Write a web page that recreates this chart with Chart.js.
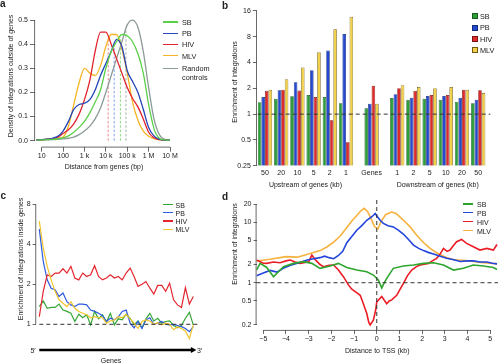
<!DOCTYPE html>
<html>
<head>
<meta charset="utf-8">
<script src="https://cdn.jsdelivr.net/npm/chart.js@4.4.1/dist/chart.umd.min.js"></script>
<style>
html, body { margin: 0; padding: 0; background: #fff; }
body { width: 498px; height: 363px; position: relative; overflow: hidden;
       font-family: 'Liberation Sans', Arial, sans-serif; color: #222; }
canvas { position: absolute; }
.ttl, .ctr, .lt, .sw, .letter { position: absolute; white-space: nowrap; }
.ttl { font-size: 7px; transform: translate(-50%, -50%) rotate(-90deg); }
.ctr { font-size: 7px; transform: translate(-50%, -50%); }
.lt  { font-size: 7px; transform: translateY(-50%); }
.letter { font-size: 10px; font-weight: bold; line-height: 10px; }
</style>
</head>
<body>
<canvas id="ca" width="240" height="180" style="left:0;top:0"></canvas>
<canvas id="cb" width="278" height="190" style="left:220px;top:0"></canvas>
<canvas id="cc" width="230" height="173" style="left:0;top:190px"></canvas>
<canvas id="cd" width="278" height="173" style="left:220px;top:190px"></canvas>
<script>
// ---------- panel a: density of integrations outside genes ----------
const aLogDist = [0.75,1,1.25,1.5,1.75,2,2.25,2.5,2.75,3,3.25,3.5,3.75,4,4.25,4.5,4.75,5,5.25,5.5,5.75,6,6.25,6.5,6.75,7];
const aSB     = [0.002,0.003,0.004,0.005,0.008,0.012,0.02,0.035,0.055,0.08,0.115,0.16,0.21,0.30,0.37,0.41,0.44,0.435,0.41,0.36,0.28,0.15,0.05,0.01,0.003,0.002];
const aPB     = [0.003,0.004,0.006,0.01,0.018,0.04,0.08,0.13,0.15,0.155,0.17,0.21,0.27,0.32,0.37,0.42,0.39,0.29,0.245,0.20,0.13,0.055,0.02,0.006,0.002,0.002];
const aHIV    = [0.003,0.004,0.006,0.008,0.014,0.03,0.045,0.07,0.11,0.17,0.25,0.37,0.45,0.45,0.40,0.34,0.28,0.22,0.175,0.14,0.09,0.035,0.012,0.004,0.002,0.002];
const aMLV    = [0.003,0.004,0.005,0.007,0.01,0.015,0.06,0.15,0.24,0.30,0.28,0.27,0.31,0.39,0.44,0.44,0.38,0.28,0.16,0.085,0.04,0.018,0.008,0.004,0.002,0.002];
const aRandom = [0.001,0.002,0.003,0.004,0.005,0.007,0.01,0.015,0.025,0.04,0.06,0.09,0.135,0.2,0.27,0.34,0.41,0.48,0.50,0.47,0.37,0.22,0.09,0.025,0.006,0.002];
// median distances (dashed lines), bp, and the height they reach
const aMedianBp  = [48000, 24500, 12900, 87000];   // SB, PB, HIV, Random
const aMedianTop = [0.43, 0.40, 0.43, 0.46];
const aXTicks = [10, 100, 1e3, 1e4, 1e5, 1e6, 1e7];
const aXLabels = ['10', '100', '1 k', '10 k', '100 k', '1 M', '10 M'];
const aYTicks = [0, 0.1, 0.2, 0.3, 0.4, 0.5];

// ---------- panel b: enrichment around genes (bars) ----------
const bGroups = ['50','20','10','5','2','1','Genes','1','2','5','10','20','50'];
const bRegion = ['up','up','up','up','up','up','gene','down','down','down','down','down','down'];
const bSB  = [1.38,1.51,1.62,1.67,1.58,1.34,1.17,1.54,1.47,1.51,1.47,1.39,1.34];
const bPB  = [1.58,1.90,2.36,3.26,5.52,8.6,1.32,1.71,1.55,1.63,1.63,1.55,1.47];
const bHIV = [1.87,1.92,1.89,1.58,0.85,0.47,2.14,2.01,1.87,1.67,1.67,1.92,1.90];
const bMLV = [1.92,2.56,3.50,5.29,9.8,13.7,1.32,2.18,2.07,2.01,2.07,1.92,1.76];
const bYTicks = [0.25, 0.5, 1, 2, 4, 8, 16];

// ---------- panel c: enrichment inside genes, 5' -> 3' bins ----------
const cSB  = [1.36,1.5,1.32,1.34,1.34,1.42,1.28,1.25,1.21,1.05,1.19,1.12,1.18,0.99,1.25,1.1,1.18,1.04,1.21,0.99,1.1,1.08,1.19,1.11,0.99,1.06,0.94,1.1,1.21,1.06,1.11,1.02,1.05,1.06,0.98,0.94,0.98,1.11,1.23,0.99];
const cPB  = [5.2,2.98,2.16,1.87,1.82,1.62,1.72,1.48,1.40,1.36,1.42,1.42,1.40,1.28,1.25,1.21,1.16,1.05,1.11,1.08,1.14,1.25,1.28,1.02,0.94,1.05,0.93,1.08,1.12,1.0,1.02,1.05,1.0,0.99,1.0,0.98,0.96,0.93,0.88,0.96];
const cHIV = [1.14,1.77,2.36,2.29,2.43,2.43,2.62,2.43,2.73,2.23,2.16,2.43,2.29,2.36,2.76,2.29,2.16,2.23,2.36,2.23,2.29,2.16,2.43,2.65,2.29,1.93,2.0,2.1,1.87,1.69,1.96,1.96,1.77,2.04,1.53,1.40,1.34,1.89,1.42,1.62];
const cMLV = [5.98,3.76,2.73,2.16,1.77,1.53,1.44,1.36,1.48,1.32,1.25,1.21,1.18,1.12,1.14,1.12,1.12,1.02,1.06,1.08,1.14,1.12,1.19,1.1,1.02,0.93,1.05,1.08,1.06,1.0,1.03,0.99,1.02,1.0,0.91,0.96,0.93,0.89,0.78,0.99];
const cYTicks = [1, 2, 4, 8];

// ---------- panel d: enrichment around TSS (kb) ----------
const dSBx  = [-5.3,-5.14,-4.85,-4.55,-4.33,-4.11,-3.67,-3.23,-2.86,-2.5,-2.06,-1.69,-1.32,-0.88,-0.44,-0.15,0.07,0.22,0.3,0.44,0.73,1.17,1.62,2.06,2.5,2.94,3.38,3.82,4.26,4.7,5.14,5.3];
const dSB   = [1.62,2.09,1.79,1.26,1.52,1.84,2.09,2.23,2.09,1.73,1.89,2.09,1.79,1.62,1.52,1.34,1.11,0.82,0.95,1.18,1.73,1.89,1.96,2.09,2.14,1.96,1.62,1.73,1.96,1.89,1.79,1.66];
const dPBx  = [-5.3,-5.0,-4.7,-4.4,-4.1,-3.8,-3.5,-3.1,-2.8,-2.5,-2.3,-2.1,-1.9,-1.7,-1.5,-1.32,-1.1,-0.88,-0.66,-0.44,-0.2,-0.07,0.03,0.15,0.29,0.5,0.73,0.95,1.17,1.4,1.62,1.85,2.06,2.3,2.5,2.8,3.08,3.4,3.67,4.0,4.26,4.55,4.85,5.1,5.3];
const dPB   = [1.3,1.45,1.6,1.5,1.75,1.95,2.1,2.35,2.5,2.6,2.75,2.6,2.5,2.8,3.3,4.6,5.8,7.4,8.8,10.8,12.5,14.0,12.4,10.8,9.6,8.8,8.4,7.4,6.4,5.2,4.2,3.7,3.4,3.15,3.0,2.75,2.55,2.4,2.25,2.3,2.3,2.2,2.2,2.1,2.05];
const dHIVx = [-5.3,-5.0,-4.85,-4.55,-4.26,-4.0,-3.82,-3.6,-3.38,-3.0,-2.86,-2.72,-2.5,-2.35,-2.1,-1.9,-1.69,-1.47,-1.25,-1.1,-0.95,-0.73,-0.59,-0.44,-0.35,-0.29,-0.15,-0.05,0.0,0.22,0.44,0.55,0.66,0.88,1.0,1.17,1.35,1.54,1.75,1.91,2.28,2.45,2.64,2.8,2.94,3.1,3.23,3.4,3.52,3.74,3.96,4.26,4.55,4.85,5.14,5.3];
const dHIV  = [2.37,2.1,2.09,2.2,2.14,2.3,2.37,2.2,2.09,2.23,2.87,2.43,2.0,1.84,1.95,1.96,1.62,1.26,0.92,0.78,0.71,0.62,0.45,0.31,0.22,0.2,0.24,0.35,0.48,0.59,0.45,0.5,0.52,0.62,0.75,0.97,1.3,1.62,1.85,1.96,2.09,2.3,2.53,3.0,3.7,3.3,3.47,4.2,4.77,5.2,4.48,3.94,3.47,3.7,3.47,4.3];
const dMLVx = [-5.3,-4.7,-4.0,-3.5,-3.0,-2.5,-2.2,-1.9,-1.6,-1.32,-1.1,-0.88,-0.7,-0.55,-0.4,-0.25,-0.1,0.05,0.2,0.4,0.66,0.85,1.03,1.25,1.47,1.7,1.91,2.15,2.35,2.6,2.8,3.1,3.4,3.8,4.26,4.7,5.0,5.3];
const dMLV  = [2.29,2.45,2.7,2.65,3.0,3.4,3.9,4.7,6.0,8.2,10.5,13.0,15.5,17,15,11.5,8.5,7.8,10.5,13.5,14.8,14,12.2,10.2,8.4,6.5,5.3,4.3,3.7,3.2,2.9,2.6,2.4,2.35,2.25,2.15,2.1,2.05];
const dXTicks = [-5,-4,-3,-2,-1,0,1,2,3,4,5];
const dYTicks = [0.2, 0.5, 1, 2, 5, 10, 20];

// ---------- shared setup ----------
Chart.defaults.font.family = "'Liberation Sans', Arial, sans-serif";
Chart.defaults.font.size = 7;
Chart.defaults.color = '#222';
const AXIS = '#444';

const pinWidth  = w => s => { s.width = w; };
const pinHeight = h => s => { s.height = h; };
const setTicks  = vals => s => { s.ticks = vals.map(v => ({ value: v })); };
const tickGrid  = len => ({ display: true, drawOnChartArea: false, drawTicks: true,
                            tickLength: len, color: AXIS, lineWidth: 0.8 });
const fmt = v => (v < 0 ? '\u2212' + (-v) : String(v));

// R style axis lines: only from the first to the last tick
const rAxes = {
  id: 'rAxes',
  afterDraw(chart, args, opts) {
    const ctx = chart.ctx;
    ctx.save();
    ctx.strokeStyle = AXIS;
    ctx.lineWidth = 0.8;
    (opts.axes || []).forEach(id => {
      const s = chart.scales[id];
      const t = s.ticks;
      const p0 = s.getPixelForValue(t[0].value);
      const p1 = s.getPixelForValue(t[t.length - 1].value);
      ctx.beginPath();
      if (s.isHorizontal()) { ctx.moveTo(p0, s.top + 0.4); ctx.lineTo(p1, s.top + 0.4); }
      else { ctx.moveTo(s.right - 0.4, p0); ctx.lineTo(s.right - 0.4, p1); }
      ctx.stroke();
    });
    ctx.restore();
  }
};

// dashed reference lines in data units
const refLines = {
  id: 'refLines',
  afterDatasetsDraw(chart, args, opts) {
    const ctx = chart.ctx, x = chart.scales.x, y = chart.scales.y;
    ctx.save();
    ctx.strokeStyle = '#333';
    ctx.lineWidth = 1;
    ctx.setLineDash([4, 3]);
    (opts.lines || []).forEach(l => {
      ctx.beginPath();
      if (l.y !== undefined) {
        const py = y.getPixelForValue(l.y);
        ctx.moveTo(x.getPixelForValue(l.from), py); ctx.lineTo(x.getPixelForValue(l.to), py);
      } else {
        const px = x.getPixelForValue(l.x);
        ctx.moveTo(px, y.getPixelForValue(l.from)); ctx.lineTo(px, y.getPixelForValue(l.to));
      }
      ctx.stroke();
    });
    ctx.restore();
  }
};

const baseOpts = (padding, extraPlugins) => ({
  responsive: false,
  animation: false,
  devicePixelRatio: 1,
  layout: { padding },
  plugins: Object.assign({ legend: { display: false }, tooltip: { enabled: false } }, extraPlugins)
});

// html text helpers
function put(html, x, y, cls, style) {
  const d = document.createElement('div');
  d.className = cls;
  d.innerHTML = html;
  d.style.left = x + 'px';
  d.style.top = y + 'px';
  if (style) Object.assign(d.style, style);
  document.body.appendChild(d);
  return d;
}
function keyLine(x, y, w, h, color) {
  put('', x, y - h / 2, 'sw', { width: w + 'px', height: h + 'px', background: color });
}

// ---------- chart a ----------
const aColors = { SB: '#5ccf4a', PB: '#2446b8', HIV: '#e2232e', MLV: '#f5b526', Random: '#8c9a9a' };
const aSeries = [['SB', aSB], ['PB', aPB], ['HIV', aHIV], ['MLV', aMLV], ['Random', aRandom]];
const aMedianNames = ['SB', 'PB', 'HIV', 'Random'];
const aMedianColors = { SB: 'rgba(92,207,74,0.8)', PB: 'rgba(60,100,220,0.7)', HIV: 'rgba(226,35,46,0.6)', Random: 'rgba(130,140,140,0.8)' };

const aDatasets = aSeries.map(([name, vals]) => ({
  data: aLogDist.map((L, i) => ({ x: Math.pow(10, L), y: vals[i] })),
  borderColor: aColors[name], borderWidth: 1.3, pointRadius: 0,
  cubicInterpolationMode: 'monotone', fill: false, order: 1
}));
aMedianNames.forEach((name, i) => aDatasets.push({
  data: [{ x: aMedianBp[i], y: 0 }, { x: aMedianBp[i], y: aMedianTop[i] }],
  borderColor: aMedianColors[name], borderWidth: 0.9, borderDash: [2.5, 1.8],
  pointRadius: 0, order: 5
}));

new Chart(document.getElementById('ca'), {
  type: 'line',
  data: { datasets: aDatasets },
  options: Object.assign(baseOpts({ left: 0, top: 15.2, right: 67, bottom: 0 }, { rAxes: { axes: ['x', 'y'] } }), {
    scales: {
      x: { type: 'logarithmic', min: Math.pow(10, 0.687), max: Math.pow(10, 7.14), bounds: 'data',
           afterBuildTicks: setTicks(aXTicks), afterFit: pinHeight(33.3),
           ticks: { callback: (v, i) => aXLabels[i], padding: 0, autoSkip: false, maxRotation: 0 },
           grid: tickGrid(5), border: { display: false },
           title: { display: true, text: 'Distance from genes (bp)', padding: { top: 0, bottom: 8.8 } } },
      y: { type: 'linear', min: -0.025, max: 0.52, bounds: 'data',
           afterBuildTicks: setTicks(aYTicks), afterFit: pinWidth(35),
           ticks: { callback: v => v.toFixed(1), padding: 2 },
           grid: tickGrid(5), border: { display: false } }
    }
  }),
  plugins: [rAxes]
});

// ---------- chart b ----------
const B_GAP = 1.58;   // extra spacing between upstream / genes / downstream blocks
const bPos = [];
bRegion.forEach((r, i) => {
  bPos.push(i === 0 ? 0 : bPos[i - 1] + (r === bRegion[i - 1] ? 1 : B_GAP));
});
const bColors = {
  SB:  ['#2e9e3a', '#175a1f'],
  PB:  ['#2448d0', '#142a7a'],
  HIV: ['#de2a2a', '#7a1414'],
  MLV: ['#f2d04a', '#6e5a14']
};
const bSeries = [['SB', bSB], ['PB', bPB], ['HIV', bHIV], ['MLV', bMLV]];

new Chart(document.getElementById('cb'), {
  type: 'bar',
  data: {
    datasets: bSeries.map(([name, vals]) => ({
      data: bPos.map((p, i) => ({ x: p, y: vals[i] })),
      backgroundColor: bColors[name][0], borderColor: bColors[name][1],
      borderWidth: 0.7, categoryPercentage: 0.88, barPercentage: 1.0
    }))
  },
  options: Object.assign(baseOpts({ left: 0, top: 9, right: 11.7, bottom: 0 }, {
      rAxes: { axes: ['y'] },
      refLines: { lines: [{ y: 1, from: -0.45, to: bPos[bPos.length - 1] + 0.75 }] }
    }), {
    scales: {
      x: { type: 'linear', offset: false, min: -0.5, max: bPos[bPos.length - 1] + 0.5, bounds: 'data',
           afterBuildTicks: setTicks(bPos), afterFit: pinHeight(24.3),
           ticks: { callback: (v, i) => bGroups[i], padding: 3.5, autoSkip: false, maxRotation: 0 },
           grid: { display: false, drawTicks: false }, border: { display: false } },
      y: { type: 'logarithmic', min: 0.25, max: 16.88, bounds: 'data',
           afterBuildTicks: setTicks(bYTicks), afterFit: pinWidth(36.9),
           ticks: { callback: v => String(v), padding: 2 },
           grid: tickGrid(4), border: { display: false } }
    }
  }),
  plugins: [rAxes, refLines]
});

// ---------- chart c ----------
const cColors = { SB: '#35a535', PB: '#2d5be0', HIV: '#e3262e', MLV: '#f2c42c' };
const cSeries = [['SB', cSB], ['PB', cPB], ['HIV', cHIV], ['MLV', cMLV]];

const geneArrow = {
  id: 'geneArrow',
  afterDraw(chart) {
    const ctx = chart.ctx, x = chart.scales.x;
    const y = chart.chartArea.bottom + 9.1;
    const x0 = x.getPixelForValue(0), x1 = x.getPixelForValue(cHIV.length - 0.6);
    ctx.save();
    ctx.strokeStyle = '#000'; ctx.fillStyle = '#000'; ctx.lineWidth = 2.6;
    ctx.beginPath(); ctx.moveTo(x0, y); ctx.lineTo(x1 - 3, y); ctx.stroke();
    ctx.beginPath(); ctx.moveTo(x1 + 1.5, y); ctx.lineTo(x1 - 4, y - 3); ctx.lineTo(x1 - 4, y + 3);
    ctx.closePath(); ctx.fill();
    ctx.restore();
  }
};

new Chart(document.getElementById('cc'), {
  type: 'line',
  data: {
    datasets: cSeries.map(([name, vals]) => ({
      data: vals.map((v, i) => ({ x: i, y: v })),
      borderColor: cColors[name], borderWidth: 1.2, pointRadius: 0, tension: 0, fill: false
    })).reverse()
  },
  options: Object.assign(baseOpts({ left: 0, top: 12.2, right: 35.9, bottom: 22.1 }, {
      rAxes: { axes: ['y'] },
      refLines: { lines: [{ y: 1, from: 0, to: cHIV.length + 0.5 }] }
    }), {
    scales: {
      x: { type: 'linear', display: false, min: -0.8, max: cHIV.length - 0.8 },
      y: { type: 'logarithmic', min: 0.75, max: 8.3, bounds: 'data',
           afterBuildTicks: setTicks(cYTicks), afterFit: pinWidth(36.14),
           ticks: { callback: v => String(v), padding: 2 },
           grid: tickGrid(3.5), border: { display: false } }
    }
  }),
  plugins: [rAxes, refLines, geneArrow]
});

// ---------- chart d ----------
const dColors = { SB: '#2ea52e', PB: '#2245dc', HIV: '#ec1c24', MLV: '#f6b13e' };
const dSeries = [['SB', dSBx, dSB], ['PB', dPBx, dPB], ['HIV', dHIVx, dHIV], ['MLV', dMLVx, dMLV]];

new Chart(document.getElementById('cd'), {
  type: 'line',
  data: {
    datasets: dSeries.map(([name, xs, vals]) => ({
      data: xs.map((x, i) => ({ x, y: vals[i] })),
      borderColor: dColors[name], borderWidth: 1.6, pointRadius: 0, tension: 0, fill: false
    }))
  },
  options: Object.assign(baseOpts({ left: 0, top: 10, right: 0, bottom: 0 }, {
      rAxes: { axes: ['x', 'y'] },
      refLines: { lines: [{ y: 1, from: -5.3, to: 5.344 }, { x: 0, from: 23.4, to: 0.165 }] }
    }), {
    scales: {
      x: { type: 'linear', min: -5.3, max: 5.344, bounds: 'data',
           afterBuildTicks: setTicks(dXTicks), afterFit: pinHeight(33),
           ticks: { callback: v => fmt(v), padding: 1, autoSkip: false, maxRotation: 0 },
           grid: tickGrid(4), border: { display: false },
           title: { display: true, text: 'Distance to TSS (kb)', padding: { top: 0, bottom: 7.8 } } },
      y: { type: 'logarithmic', min: 0.165, max: 23.4, bounds: 'data',
           afterBuildTicks: setTicks(dYTicks), afterFit: pinWidth(36.5),
           ticks: { callback: v => String(v), padding: 2 },
           grid: tickGrid(3), border: { display: false } }
    }
  }),
  plugins: [rAxes, refLines]
});

// ---------- html text: letters, axis titles, legends ----------
put('a', 0, -1, 'letter');
put('b', 222, 1, 'letter');
put('c', 0.5, 191, 'letter');
put('d', 222, 192, 'letter');

put('Density of integrations outside of genes', 10, 76, 'ttl');
put('Enrichment of integrations', 234, 82, 'ttl');
put('Enrichment of integrations inside genes', 19.5, 259, 'ttl');
put('Enrichment of integrations', 234, 244, 'ttl');

put('Upstream of genes (kb)', 305.5, 184, 'ctr');
put('Downstream of genes (kb)', 437.7, 184, 'ctr');

put('5\u2032', 33, 350, 'ctr');
put('3\u2032', 199.5, 350, 'ctr');
put('Genes', 111, 359.5, 'ctr');

// legend a
const aKeyY = { SB: 22, PB: 33.3, HIV: 44.3, MLV: 55.5, Random: 68.3 };
Object.keys(aKeyY).forEach(name => {
  keyLine(163, aKeyY[name], 15, 1.4, aColors[name]);
  put(name === 'Random' ? 'Random' : name, 182, aKeyY[name], 'lt', { fontSize: '7.3px' });
});
put('controls', 182, 77.3, 'lt', { fontSize: '7.3px' });

// legend b
const bKeyY = [15.7, 27.3, 38.7, 50];
bSeries.forEach(([name], i) => {
  put('', 472.3, bKeyY[i] - 2.7, 'sw', { width: '4px', height: '4px',
      background: bColors[name][0], border: '0.7px solid ' + bColors[name][1] });
  put(name, 480, bKeyY[i], 'lt', { fontSize: '7.3px' });
});

// legend c
const cKeyY = [204.5, 212.5, 221, 229.3];
cSeries.forEach(([name], i) => {
  keyLine(162.7, cKeyY[i], 10, 1.3, cColors[name]);
  put(name, 175.5, cKeyY[i], 'lt');
});

// legend d
const dKeyY = [204, 212.7, 221.7, 230.7];
dSeries.forEach(([name], i) => {
  keyLine(463, dKeyY[i], 10, 1.5, dColors[name]);
  put(name, 477, dKeyY[i], 'lt');
});
</script>
</body>
</html>
